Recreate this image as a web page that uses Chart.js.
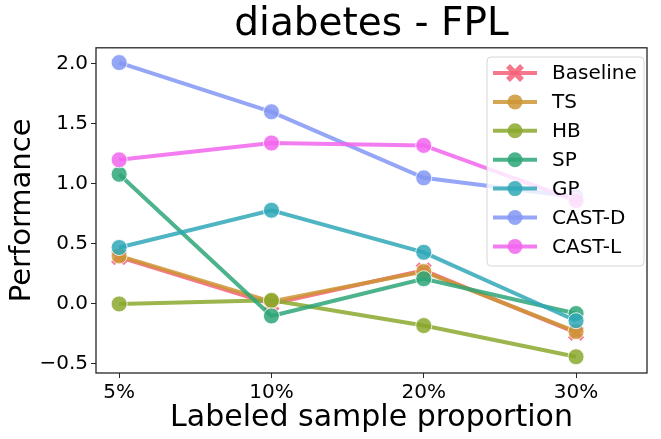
<!DOCTYPE html>
<html>
<head>
<meta charset="utf-8">
<script src="https://cdn.jsdelivr.net/npm/chart.js@4/dist/chart.umd.min.js"></script>
<style>
html,body{margin:0;padding:0;background:#fff;}
#wrap{width:661px;height:439px;position:relative;}
</style>
</head>
<body>
<div id="wrap"><canvas id="c" width="661" height="439"></canvas></div>
<script>
const categories = ["5%", "10%", "20%", "30%"];
const yTicks = [-0.5, 0.0, 0.5, 1.0, 1.5, 2.0];
const seriesNames = ["Baseline", "TS", "HB", "SP", "GP", "CAST-D", "CAST-L"];
const baseline = [0.39, 0.00, 0.28, -0.24];
const ts = [0.40, 0.02, 0.27, -0.23];
const hb = [0.00, 0.03, -0.18, -0.44];
const sp = [1.08, -0.10, 0.21, -0.08];
const gp = [0.47, 0.78, 0.43, -0.14];
const castD = [2.01, 1.60, 1.05, 0.89];
const castL = [1.20, 1.34, 1.32, 0.86];

const seriesValues = [baseline, ts, hb, sp, gp, castD, castL];
const colors = [
  "rgba(246,96,120,0.85)",
  "rgba(205,149,52,0.85)",
  "rgba(139,168,45,0.85)",
  "rgba(46,166,120,0.85)",
  "rgba(48,168,185,0.85)",
  "rgba(130,151,244,0.85)",
  "rgba(242,101,238,0.85)"
];
const FONT = "'DejaVu Sans', sans-serif";

const datasets = seriesNames.map((name, i) => ({
  label: name,
  data: seriesValues[i].map((v, k) => ({x: k, y: v})),
  borderColor: colors[i],
  backgroundColor: colors[i],
  borderWidth: 4,
  pointRadius: i === 0 ? 9 : 8,
  pointStyle: i === 0 ? 'crossRot' : 'circle',
  pointBorderColor: i === 0 ? colors[i] : 'rgba(255,255,255,0.8)',
  pointBorderWidth: i === 0 ? 5 : 1,
  pointBackgroundColor: colors[i],
  tension: 0,
  order: seriesNames.length - i
}));

const framePlugin = {
  id: 'frame',
  afterDatasetsDraw(chart) {
    const ctx = chart.ctx, a = chart.chartArea;
    ctx.save();
    ctx.strokeStyle = '#262626';
    ctx.lineWidth = 1.3;
    ctx.strokeRect(a.left, a.top, a.right - a.left, a.bottom - a.top);
    ctx.restore();
  }
};

const legendPlugin = {
  id: 'customLegend',
  afterDatasetsDraw(chart) {
    const ctx = chart.ctx;
    const x0 = 487, y0 = 57, w = 157, h = 209;
    ctx.save();
    ctx.beginPath();
    const r = 4;
    ctx.moveTo(x0 + r, y0);
    ctx.arcTo(x0 + w, y0, x0 + w, y0 + h, r);
    ctx.arcTo(x0 + w, y0 + h, x0, y0 + h, r);
    ctx.arcTo(x0, y0 + h, x0, y0, r);
    ctx.arcTo(x0, y0, x0 + w, y0, r);
    ctx.closePath();
    ctx.fillStyle = 'rgba(255,255,255,0.8)';
    ctx.fill();
    ctx.strokeStyle = '#d6d6d6';
    ctx.lineWidth = 1;
    ctx.stroke();
    chart.data.datasets.forEach((ds, i) => {
      const cy = 73 + i * 28.9;
      ctx.strokeStyle = ds.borderColor;
      ctx.lineWidth = 4;
      ctx.beginPath();
      ctx.moveTo(493, cy);
      ctx.lineTo(537, cy);
      ctx.stroke();
      if (ds.pointStyle === 'crossRot') {
        ctx.lineWidth = 5.5;
        ctx.beginPath();
        ctx.moveTo(515 - 7, cy - 7); ctx.lineTo(515 + 7, cy + 7);
        ctx.moveTo(515 - 7, cy + 7); ctx.lineTo(515 + 7, cy - 7);
        ctx.stroke();
      } else {
        ctx.fillStyle = ds.backgroundColor;
        ctx.beginPath();
        ctx.arc(515, cy, 7.5, 0, Math.PI * 2);
        ctx.fill();
      }
      ctx.fillStyle = '#000';
      ctx.font = "20px " + FONT;
      ctx.textBaseline = 'middle';
      ctx.textAlign = 'left';
      ctx.fillText(ds.label, 552, cy + 1);
    });
    ctx.restore();
  }
};

new Chart(document.getElementById('c'), {
  type: 'line',
  data: { datasets },
  options: {
    responsive: false,
    animation: false,
    layout: { padding: { left: 0, right: 6, top: 0, bottom: 0 } },
    plugins: {
      legend: { display: false },
      tooltip: { enabled: false },
      title: {
        display: true,
        fullSize: false,
        text: 'diabetes - FPL',
        color: '#000',
        font: { family: FONT, size: 39, weight: 'normal' },
        padding: { top: 1, bottom: 0 }
      }
    },
    scales: {
      x: {
        type: 'linear',
        min: -0.152,
        max: 3.466,
        afterBuildTicks(scale) { scale.ticks = categories.map((c, i) => ({value: i})); },
        afterFit(scale) { scale.height = 66; },
        ticks: {
          callback: (v) => categories[v],
          color: '#000',
          font: { family: FONT, size: 20 },
          padding: 3,
          maxRotation: 0,
          autoSkip: false
        },
        grid: { display: true, drawOnChartArea: false, drawTicks: true, tickLength: 5, color: '#262626', lineWidth: 1 },
        border: { display: false },
        title: {
          display: true,
          text: 'Labeled sample proportion',
          color: '#000',
          font: { family: FONT, size: 30 },
          padding: { top: 0, bottom: 3 }
        }
      },
      y: {
        type: 'linear',
        min: -0.575,
        max: 2.133,
        afterBuildTicks(scale) { scale.ticks = yTicks.map(v => ({value: v})); },
        afterFit(scale) { scale.width = 96; },
        ticks: {
          callback: (v) => (v < 0 ? '\u2212' : '') + Math.abs(v).toFixed(1),
          color: '#000',
          font: { family: FONT, size: 20 },
          padding: 3,
          autoSkip: false
        },
        grid: { display: true, drawOnChartArea: false, drawTicks: true, tickLength: 5, color: '#262626', lineWidth: 1 },
        border: { display: false },
        title: {
          display: true,
          text: 'Performance',
          color: '#000',
          font: { family: FONT, size: 29 },
          padding: { top: 5, bottom: 0 }
        }
      }
    }
  },
  plugins: [framePlugin, legendPlugin]
});
</script>
</body>
</html>
